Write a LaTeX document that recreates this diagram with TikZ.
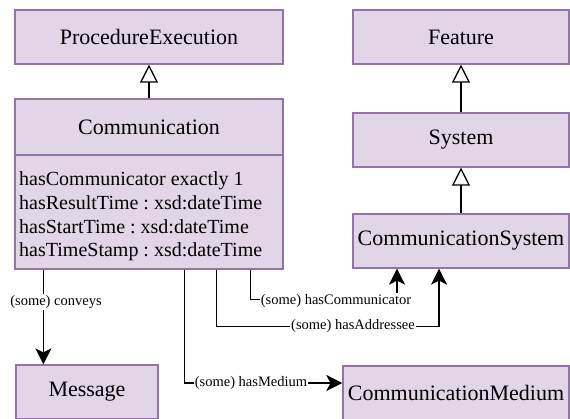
\documentclass[tikz,border=0pt]{standalone}
\usepackage{fontspec}
\setmainfont{Liberation Serif}[Ligatures=TeX]
\usetikzlibrary{arrows.meta,calc}
\definecolor{boxfill}{HTML}{E1D5E7}
\definecolor{boxdraw}{HTML}{9673A6}
\begin{document}
\frenchspacing
\rmfamily
\begin{tikzpicture}[x=1pt,y=-1pt,
  cls/.style={draw=boxdraw,fill=boxfill,line width=1.2pt,inner sep=0pt,font=\rmfamily\fontsize{22}{26}\selectfont},
  inh/.style={-{Triangle[open,length=18pt,width=18pt]},line width=1.3pt,black},
  rel/.style={-{Stealth[length=16pt,width=16pt,inset=4pt]},line width=1.7pt,black},
  lbl/.style={fill=white,inner sep=1pt,font=\rmfamily\fontsize{14.5}{16}\selectfont},
  attr/.style={anchor=base west,inner sep=0pt,font=\rmfamily\fontsize{20}{24}\selectfont}]
\useasboundingbox (0,0) rectangle (570,419);
\begin{scope}
\clip (0,0) rectangle (570,419);
\node[cls,minimum width=268pt,minimum height=54pt] (pe) at (149,37) {ProcedureExecution};
\node[cls,minimum width=268pt,minimum height=56pt] (commhead) at (149,127) {Communication};
\node[cls,minimum width=268pt,minimum height=114pt] (commbody) at (149,212) {};
\node[attr] (a1) at (19,186) {hasCommunicator exactly 1};
\node[attr] (a2) at (19,210) {hasResultTime : xsd:dateTime};
\node[attr] (a3) at (19,234) {hasStartTime : xsd:dateTime};
\node[attr] (a4) at (19,257) {hasTimeStamp : xsd:dateTime};
\node[cls,minimum width=216pt,minimum height=54pt] (feature) at (461,37) {Feature};
\node[cls,minimum width=216pt,minimum height=54pt] (system) at (461,140) {System};
\node[cls,minimum width=216pt,minimum height=54pt] (commsys) at (461,241) {CommunicationSystem};
\node[cls,minimum width=142pt,minimum height=54pt] (message) at (87,392) {Message};
\node[cls,minimum width=226pt,minimum height=54pt] (commmedium) at (456,393) {CommunicationMedium};

\draw[inh] (commhead.north) -- (pe.south);
\draw[inh] (system.north) -- (feature.south);
\draw[inh] (commsys.north) -- (system.south);

\coordinate (c1) at ($(commbody.south west)+(29,0)$);
\coordinate (c2) at ($(commbody.south west)+(170,0)$);
\coordinate (c3) at ($(commbody.south west)+(202,0)$);
\coordinate (c4) at ($(commbody.south west)+(236,0)$);

\draw[rel] (c1) -- (c1 |- message.north);
\node[lbl] (l1) at (56,302) {(some) conveys};

\draw[rel] (c2) |- ($(commmedium.west)+(0,-10)$);
\node[lbl] (l2) at (251,383) {(some) hasMedium};

\draw[rel] (c3) -- ++(0,57) -| ($(commsys.south)+(-22,0)$);
\node[lbl] (l3) at (353,326) {(some) hasAddressee};

\draw[rel] (c4) -- ++(0,30) -| ($(commsys.south)+(-64,0)$);
\node[lbl] (l4) at (336,301) {(some) hasCommunicator};
\end{scope}
\end{tikzpicture}
\end{document}
